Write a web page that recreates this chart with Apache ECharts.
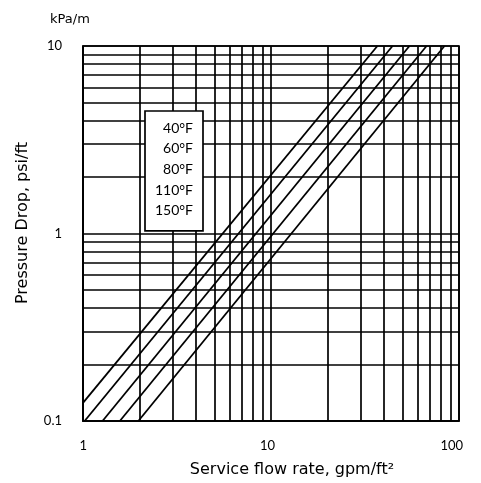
<!DOCTYPE html>
<html>
<head>
<meta charset="utf-8">
<script src="https://cdn.jsdelivr.net/npm/echarts@6/dist/echarts.min.js"></script>
<style>html,body{margin:0;padding:0;background:#fff}#c{width:481px;height:483px}</style>
</head>
<body>
<div id="c"></div>
<script>
// Series names (temperatures)
const seriesNames = ['40°F', '60°F', '80°F', '110°F', '150°F'];
// Each line: [flow rate gpm/ft², pressure drop psi/ft] at the two ends visible in the plot
const line40 = [[1, 0.125], [36.8, 10]];
const line60 = [[1.02, 0.1], [44.3, 10]];
const line80 = [[1.27, 0.1], [54.5, 10]];
const line110 = [[1.57, 0.1], [67.2, 10]];
const line150 = [[1.97, 0.1], [83.7, 10]];
const seriesData = [line40, line60, line80, line110, line150];
// Grid line positions (log decades with 2..9 minors)
const xGridValues = [1,2,3,4,5,6,7,8,9,10,20,30,40,50,60,70,80,90,100];
const yGridValues = [0.1,0.2,0.3,0.4,0.5,0.6,0.7,0.8,0.9,1,2,3,4,5,6,7,8,9,10];
const xTickLabels = ['1', '10', '100'];
const yTickLabels = ['0.1', '1', '10'];

const FONT = 'Lato';
const NAMEFONT = 'DejaVu Sans';
const chart = echarts.init(document.getElementById('c'), null, {renderer: 'canvas'});

const gridLines = [];
xGridValues.forEach(v => gridLines.push({xAxis: v}));
yGridValues.forEach(v => gridLines.push({yAxis: v}));

const series = seriesNames.map((n, i) => ({
  name: n,
  type: 'line',
  data: seriesData[i],
  symbol: 'none',
  lineStyle: {color: '#000', width: 1.8},
  itemStyle: {color: '#000'},
  z: 5,
  silent: true
}));
series.push({
  name: 'grid',
  type: 'line',
  data: [],
  symbol: 'none',
  silent: true,
  z: 1,
  markLine: {
    silent: true,
    symbol: ['none', 'none'],
    label: {show: false},
    lineStyle: {color: '#000', width: 1.7, type: 'solid'},
    emphasis: {disabled: true},
    animation: false,
    data: gridLines
  }
});

chart.setOption({
  animation: false,
  backgroundColor: '#fff',
  textStyle: {fontFamily: FONT},
  title: {
    text: 'kPa/m',
    left: 45, top: 8,
    textStyle: {fontFamily: NAMEFONT, fontSize: 13, fontWeight: 'normal', color: '#000'}
  },
  legend: {
    data: seriesNames,
    orient: 'vertical',
    left: 145, top: 111,
    icon: 'none',
    itemWidth: 0,
    itemHeight: 14,
    itemGap: 6.7,
    selectedMode: false,
    backgroundColor: '#fff',
    borderColor: '#000',
    borderWidth: 1.7,
    padding: [10, 10, 13, 3],
    formatter: '{r|{name}}',
    textStyle: {
      fontFamily: FONT, fontSize: 14, color: '#000',
      rich: {r: {width: 40, align: 'right', fontFamily: FONT, fontSize: 14, color: '#000'}}
    },
    z: 20
  },
  grid: {
    left: 83, right: 22, top: 46, bottom: 61,
    show: true, borderColor: '#000', borderWidth: 1.7, backgroundColor: 'transparent'
  },
  xAxis: {
    type: 'log', logBase: 10, min: 1, max: 100,
    name: 'Service flow rate, gpm/ft²',
    nameLocation: 'middle', nameGap: 41,
    nameTextStyle: {fontFamily: NAMEFONT, fontSize: 16, color: '#000', padding: [0, 0, 0, 42]},
    axisLine: {show: true, lineStyle: {color: '#000', width: 1.7}},
    axisTick: {show: false},
    splitLine: {show: false},
    axisLabel: {
      margin: 18, color: '#000', fontFamily: FONT, fontSize: 13, align: 'right',
      padding: [0, -4, 0, 0],
      formatter: v => { const s = String(+v.toPrecision(3)); return xTickLabels.includes(s) ? s : ''; }
    }
  },
  yAxis: {
    type: 'log', logBase: 10, min: 0.1, max: 10,
    name: 'Pressure Drop, psi/ft',
    nameLocation: 'middle', nameGap: 52,
    nameTextStyle: {fontFamily: NAMEFONT, fontSize: 16, color: '#000', padding: [0, 0, 0, 21]},
    axisLine: {show: true, lineStyle: {color: '#000', width: 1.7}},
    axisTick: {show: false},
    splitLine: {show: false},
    axisLabel: {
      margin: 21, color: '#000', fontFamily: FONT, fontSize: 13,
      formatter: v => { const s = String(+v.toPrecision(3)); return yTickLabels.includes(s) ? s : ''; }
    }
  },
  series: series
});
</script>
</body>
</html>
